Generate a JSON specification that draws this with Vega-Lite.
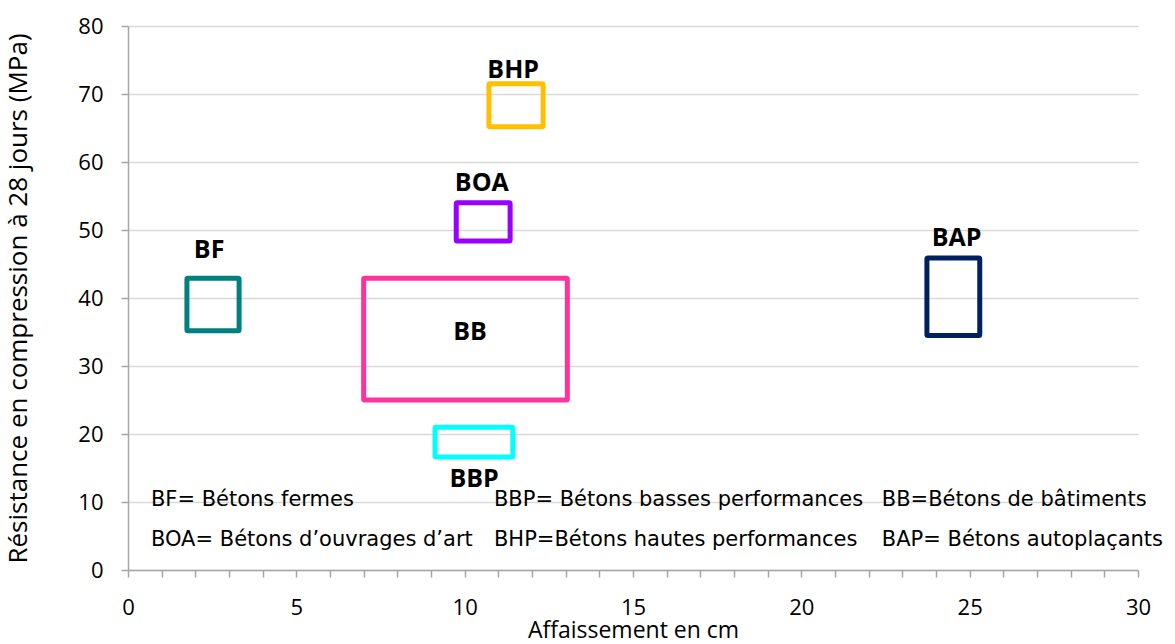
{
  "$schema": "https://vega.github.io/schema/vega-lite/v6.json",
  "autosize": "none",
  "width": 1010,
  "height": 544,
  "padding": {"left": 128, "top": 26, "right": 37, "bottom": 74},
  "background": "white",
  "config": {"view": {"stroke": null}, "font": "Open Sans"},
  "datasets": {
    "boxes": [
      {"type": "BF", "x1": 1.75, "x2": 3.3, "y1": 35.2, "y2": 42.9},
      {"type": "BB", "x1": 7.0, "x2": 13.05, "y1": 25.0, "y2": 42.9},
      {"type": "BOA", "x1": 9.75, "x2": 11.35, "y1": 48.4, "y2": 54.0},
      {"type": "BHP", "x1": 10.72, "x2": 12.33, "y1": 65.2, "y2": 71.5},
      {"type": "BBP", "x1": 9.12, "x2": 11.43, "y1": 16.6, "y2": 21.0},
      {"type": "BAP", "x1": 23.73, "x2": 25.3, "y1": 34.5, "y2": 45.9}
    ],
    "labels": [
      {"label": "BF", "x": 2.41, "y": 47.0},
      {"label": "BB", "x": 10.16, "y": 35.0},
      {"label": "BOA", "x": 10.51, "y": 56.9},
      {"label": "BHP", "x": 11.44, "y": 73.5},
      {"label": "BBP", "x": 10.28, "y": 13.4},
      {"label": "BAP", "x": 24.61, "y": 48.8}
    ],
    "notes": [
      {"note": "BF= Bétons fermes", "x": 0.68, "y": 10.3},
      {"note": "BBP= Bétons basses performances", "x": 10.87, "y": 10.3},
      {"note": "BB=Bétons de bâtiments", "x": 22.39, "y": 10.3},
      {"note": "BOA= Bétons d’ouvrages d’art", "x": 0.68, "y": 4.4},
      {"note": "BHP=Bétons hautes performances", "x": 10.87, "y": 4.4},
      {"note": "BAP= Bétons autoplaçants", "x": 22.39, "y": 4.4}
    ]
  },
  "layer": [
    {
      "data": {"name": "boxes"},
      "mark": {"type": "rect", "fill": null, "filled": false, "strokeWidth": 5, "cornerRadius": 1},
      "encoding": {
        "x": {
          "field": "x1", "type": "quantitative",
          "scale": {"domain": [0, 30], "nice": false, "zero": false},
          "axis": {
            "title": "Affaissement en cm",
            "values": [0,1,2,3,4,5,6,7,8,9,10,11,12,13,14,15,16,17,18,19,20,21,22,23,24,25,26,27,28,29,30],
            "tickCount": 40,
            "labelExpr": "datum.value % 5 === 0 ? datum.label : ''",
            "labelOverlap": false,
            "grid": false,
            "domainColor": "#a6a6a6", "domainWidth": 1.5,
            "tickColor": "#a6a6a6", "tickWidth": 1.5, "tickSize": 7,
            "labelFontSize": 22, "labelColor": "#000000", "labelFont": "Open Sans",
            "labelPadding": 20, "labelFlush": false,
            "titleFontSize": 23, "titleFont": "Open Sans", "titleFontWeight": "normal", "titleColor": "#000000",
            "titlePadding": 1
          }
        },
        "x2": {"field": "x2"},
        "y": {
          "field": "y1", "type": "quantitative",
          "scale": {"domain": [0, 80], "nice": false, "zero": false},
          "axis": {
            "title": "Résistance en compression à 28 jours (MPa)",
            "values": [0,10,20,30,40,50,60,70,80],
            "grid": true, "gridColor": "#d9d9d9", "gridWidth": 1.5,
            "domainColor": "#a6a6a6", "domainWidth": 1.5,
            "tickColor": "#a6a6a6", "tickWidth": 1.5, "tickSize": 7,
            "labelFontSize": 22, "labelColor": "#000000", "labelFont": "Open Sans",
            "labelPadding": 18,
            "titleFontSize": 26, "titleFont": "Open Sans", "titleFontWeight": "normal", "titleColor": "#000000",
            "titlePadding": 46
          }
        },
        "y2": {"field": "y2"},
        "stroke": {
          "field": "type", "type": "nominal",
          "scale": {
            "domain": ["BF", "BB", "BOA", "BHP", "BBP", "BAP"],
            "range": ["#008080", "#FF3399", "#9900FF", "#FFC000", "#00FFFF", "#002060"]
          },
          "legend": null
        }
      }
    },
    {
      "data": {"name": "labels"},
      "mark": {"type": "text", "fontSize": 25, "fontWeight": "bold", "font": "Open Sans", "color": "#000000", "align": "center", "baseline": "middle"},
      "encoding": {
        "x": {"field": "x", "type": "quantitative"},
        "y": {"field": "y", "type": "quantitative"},
        "text": {"field": "label"}
      }
    },
    {
      "data": {"name": "notes"},
      "mark": {"type": "text", "fontSize": 21, "font": "DejaVu Sans", "color": "#000000", "align": "left", "baseline": "middle"},
      "encoding": {
        "x": {"field": "x", "type": "quantitative"},
        "y": {"field": "y", "type": "quantitative"},
        "text": {"field": "note"}
      }
    }
  ]
}
